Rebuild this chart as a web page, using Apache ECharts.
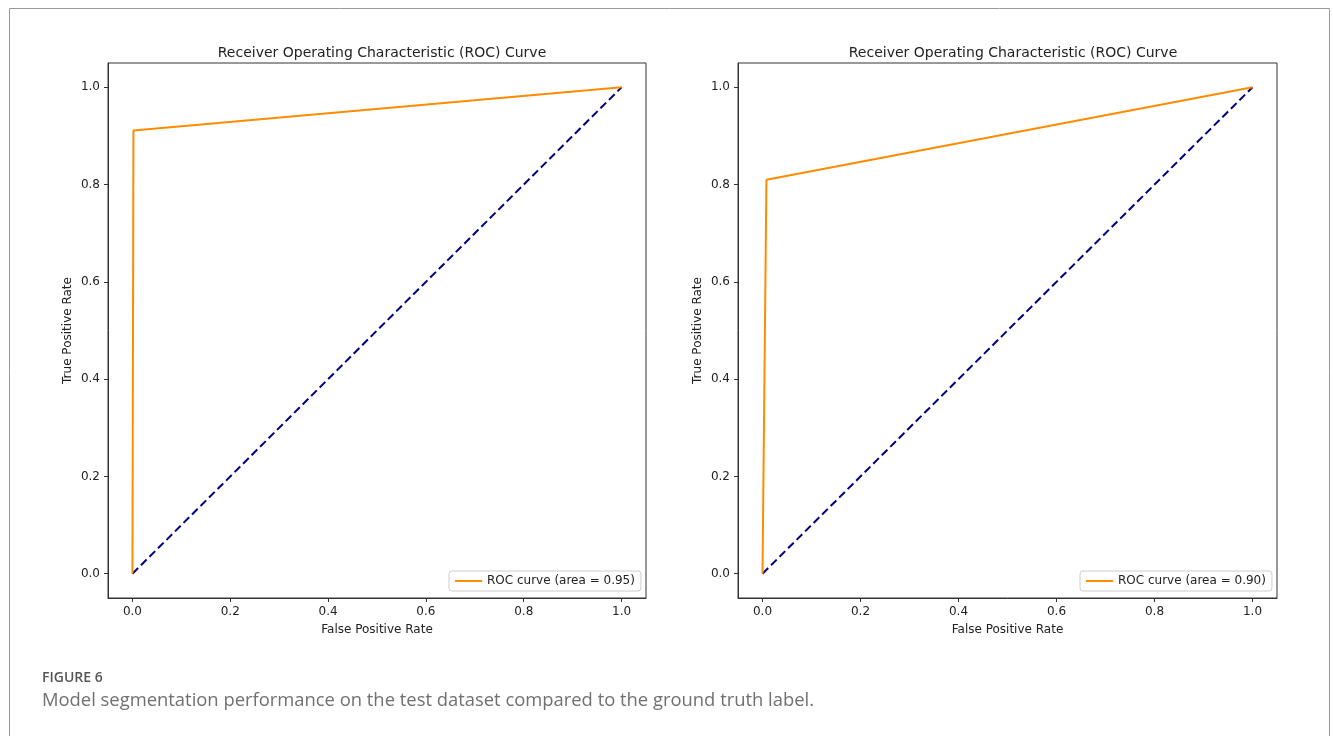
<!DOCTYPE html>
<html>
<head>
<meta charset="utf-8">
<script src="https://cdn.jsdelivr.net/npm/echarts@6/dist/echarts.min.js"></script>
<style>
	html, body { margin: 0; padding: 0; background: #fff; }
	#main { width: 1333px; height: 736px; }
</style>
</head>
<body>
<div id="main"></div>
<script>
	// ROC points
	var rocLeft = [ [ 0, 0 ], [ 0.002, 0.911 ], [ 1, 1 ] ];
	var rocRight = [ [ 0, 0 ], [ 0.008, 0.81 ], [ 1, 1 ] ];
	var chance = [ [ 0, 0 ], [ 1, 1 ] ];
	var tickValues = [ 0, 0.2, 0.4, 0.6, 0.8, 1.0 ];
	var legendNames = [ 'ROC curve (area = 0.95)', 'ROC curve (area = 0.90)' ];
	var titleText = 'Receiver Operating Characteristic (ROC) Curve';

	var textColor = '#222';
	var fontName = 'DejaVu Sans';

	function makeAxis(idx, name, nameGap) {
		return {
			type: 'value',
			gridIndex: idx,
			min: -0.05,
			max: 1.05,
			name: name,
			nameLocation: 'middle',
			nameGap: nameGap,
			nameTextStyle: { color: textColor, fontSize: 12, fontFamily: fontName },
			axisLine: { show: true, onZero: false, lineStyle: { color: '#333', width: 1 } },
			axisTick: {
				show: true,
				inside: false,
				length: 4,
				customValues: tickValues,
				lineStyle: { color: '#333', width: 1 }
			},
			axisLabel: {
				customValues: tickValues,
				margin: 8,
				color: textColor,
				fontSize: 12,
				fontFamily: fontName,
				formatter: function(v) { return v.toFixed(1); }
			},
			splitLine: { show: false }
		};
	}

	function makeLegend(name, x) {
		return {
			data: [ name ],
			left: x, top: 571,
			padding: [ 4, 6, 4, 6 ],
			itemWidth: 27, itemHeight: 2, itemGap: 8,
			icon: 'rect',
			backgroundColor: '#fff',
			borderColor: '#ccc', borderWidth: 1, borderRadius: 3,
			textStyle: { color: textColor, fontSize: 12, fontFamily: fontName }
		};
	}

	var chart = echarts.init(document.getElementById('main'));
	var option = {
		animation: false,
		backgroundColor: '#fff',
		title: [ {
			text: titleText,
			left: 377, top: 41, textAlign: 'center',
			textStyle: { color: textColor, fontSize: 14, fontWeight: 'normal', fontFamily: fontName }
		}, {
			text: titleText,
			left: 1008, top: 41, textAlign: 'center',
			textStyle: { color: textColor, fontSize: 14, fontWeight: 'normal', fontFamily: fontName }
		} ],
		grid: [
			{ left: 108, top: 63, width: 538, height: 535, show: true, borderColor: '#333', borderWidth: 1 },
			{ left: 738, top: 63, width: 539, height: 535, show: true, borderColor: '#333', borderWidth: 1 }
		],
		xAxis: [ makeAxis(0, 'False Positive Rate', 26), makeAxis(1, 'False Positive Rate', 26) ],
		yAxis: [ makeAxis(0, 'True Positive Rate', 34), makeAxis(1, 'True Positive Rate', 34) ],
		legend: [ makeLegend(legendNames[0], 449), makeLegend(legendNames[1], 1080) ],
		graphic: [ {
			type: 'rect',
			shape: { x: 9.5, y: 8.5, width: 1320, height: 740 },
			style: { fill: 'none', stroke: '#999', lineWidth: 1 },
			silent: true
		}, {
			type: 'text',
			left: 42, top: 671,
			style: { text: 'FIGURE 6', fill: '#555', fontSize: 14, fontWeight: 600, fontFamily: 'Open Sans' }
		}, {
			type: 'text',
			left: 42, top: 692,
			style: { text: 'Model segmentation performance on the test dataset compared to the ground truth label.', fill: '#707070', fontSize: 18.4, fontFamily: 'Open Sans' }
		} ],
		series: [ {
			name: 'chance-left',
			type: 'line',
			xAxisIndex: 0, yAxisIndex: 0,
			data: chance,
			symbol: 'none',
			lineStyle: { color: '#000080', width: 2, type: [ 8, 4 ] },
			z: 2
		}, {
			name: legendNames[0],
			type: 'line',
			xAxisIndex: 0, yAxisIndex: 0,
			data: rocLeft,
			symbol: 'none',
			color: '#ff8c00',
			lineStyle: { color: '#ff8c00', width: 2 },
			z: 3
		}, {
			name: 'chance-right',
			type: 'line',
			xAxisIndex: 1, yAxisIndex: 1,
			data: chance,
			symbol: 'none',
			lineStyle: { color: '#000080', width: 2, type: [ 8, 4 ] },
			z: 2
		}, {
			name: legendNames[1],
			type: 'line',
			xAxisIndex: 1, yAxisIndex: 1,
			data: rocRight,
			symbol: 'none',
			color: '#ff8c00',
			lineStyle: { color: '#ff8c00', width: 2 },
			z: 3
		} ]
	};
	chart.setOption(option);
</script>
</body>
</html>
